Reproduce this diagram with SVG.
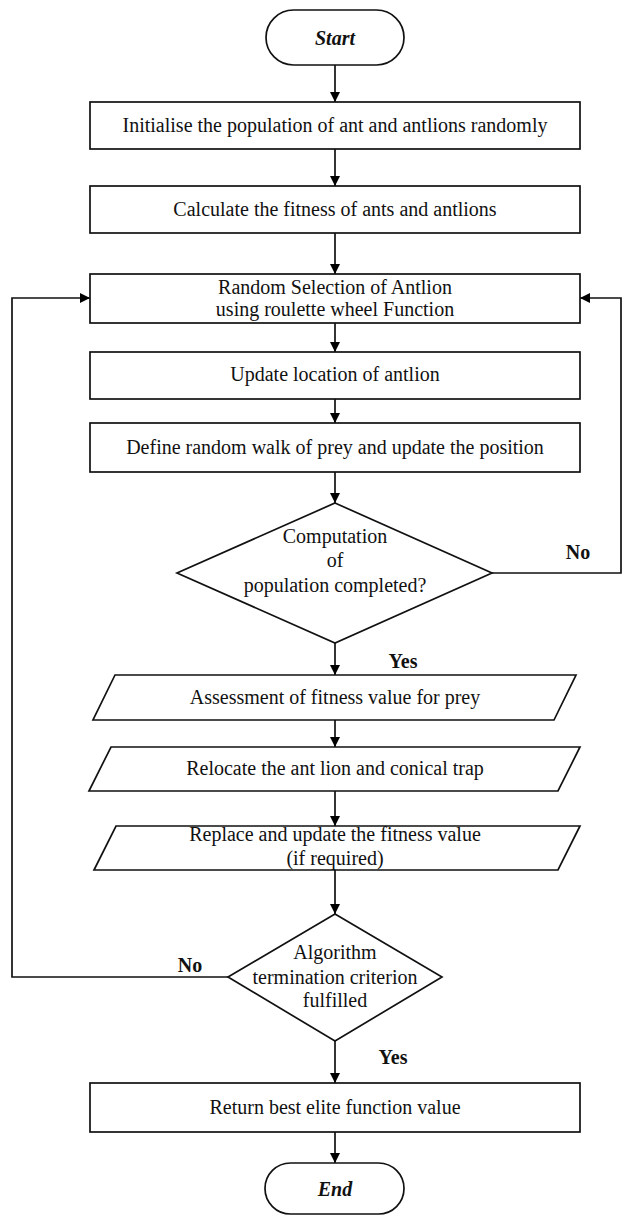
<svg xmlns="http://www.w3.org/2000/svg" width="623" height="1216" viewBox="0 0 623 1216">
<defs>
<marker id="ah" markerUnits="userSpaceOnUse" markerWidth="11" markerHeight="10" refX="10" refY="5" orient="auto">
<path d="M0,0 L10,5 L0,10 z" fill="#000"/>
</marker>
<style>
.s{fill:#fff;stroke:#111;stroke-width:1.7}
.c{fill:none;stroke:#111;stroke-width:1.7;marker-end:url(#ah)}
text{font-family:"Liberation Serif","Times New Roman",serif;font-size:20px;fill:#111;text-anchor:middle}
.b{font-weight:bold}
.bi{font-weight:bold;font-style:italic}
</style>
</defs>
<rect width="623" height="1216" fill="#fff"/>
<g id="connectors">
<line class="c" x1="335" y1="65" x2="335" y2="102"/>
<line class="c" x1="335" y1="149" x2="335" y2="186"/>
<line class="c" x1="335" y1="233" x2="335" y2="274"/>
<line class="c" x1="335" y1="323" x2="335" y2="352"/>
<line class="c" x1="335" y1="399" x2="335" y2="423"/>
<line class="c" x1="335" y1="472" x2="335" y2="503"/>
<line class="c" x1="335" y1="643" x2="335" y2="675"/>
<line class="c" x1="335" y1="720" x2="335" y2="747"/>
<line class="c" x1="335" y1="791" x2="335" y2="826"/>
<line class="c" x1="335" y1="870" x2="335" y2="914"/>
<line class="c" x1="335" y1="1041" x2="335" y2="1083"/>
<line class="c" x1="335" y1="1132" x2="335" y2="1163"/>
<polyline class="c" points="492,573 621,573 621,298 580,298"/>
<polyline class="c" points="228,977 12,977 12,298 90,298"/>
<text class="b" x="578" y="559">No</text>
<text class="b" x="403" y="668">Yes</text>
<text class="b" x="190" y="972">No</text>
<text class="b" x="393" y="1064">Yes</text>
</g>
<g id="start">
<rect class="s" x="266" y="10" width="138" height="55" rx="27.5"/>
<text class="bi" x="335" y="45">Start</text>
</g>
<g id="init">
<rect class="s" x="90" y="102" width="490" height="47"/>
<text x="335" y="132">Initialise the population of ant and antlions randomly</text>
</g>
<g id="fitness">
<rect class="s" x="90" y="186" width="490" height="47"/>
<text x="335" y="216">Calculate the fitness of ants and antlions</text>
</g>
<g id="selection">
<rect class="s" x="90" y="274" width="490" height="49"/>
<text x="335" y="294">Random Selection of Antlion</text>
<text x="335" y="316">using roulette wheel Function</text>
</g>
<g id="update">
<rect class="s" x="90" y="352" width="490" height="47"/>
<text x="335" y="381">Update location of antlion</text>
</g>
<g id="walk">
<rect class="s" x="90" y="423" width="490" height="49"/>
<text x="335" y="454">Define random walk of prey and update the position</text>
</g>
<g id="decision1">
<polygon class="s" points="335,503 492,573 335,643 177,573"/>
<text x="335" y="543">Computation</text>
<text x="335" y="567">of</text>
<text x="335" y="592">population completed?</text>
</g>
<g id="assess">
<polygon class="s" points="115,675 576,675 554,720 93,720"/>
<text x="335" y="704">Assessment of fitness value for prey</text>
</g>
<g id="relocate">
<polygon class="s" points="111,747 580,747 558,791 89,791"/>
<text x="335" y="775">Relocate the ant lion and conical trap</text>
</g>
<g id="replace">
<polygon class="s" points="116,826 580,826 558,870 94,870"/>
<text x="335" y="841">Replace and update the fitness value</text>
<text x="335" y="865">(if required)</text>
</g>
<g id="decision2">
<polygon class="s" points="335,914 442,977 335,1041 228,977"/>
<text x="335" y="959">Algorithm</text>
<text x="335" y="984">termination criterion</text>
<text x="335" y="1007">fulfilled</text>
</g>
<g id="return">
<rect class="s" x="90" y="1083" width="490" height="49"/>
<text x="335" y="1114">Return best elite function value</text>
</g>
<g id="end">
<rect class="s" x="265" y="1163" width="139" height="51" rx="25.5"/>
<text class="bi" x="335" y="1196">End</text>
</g>
</svg>
